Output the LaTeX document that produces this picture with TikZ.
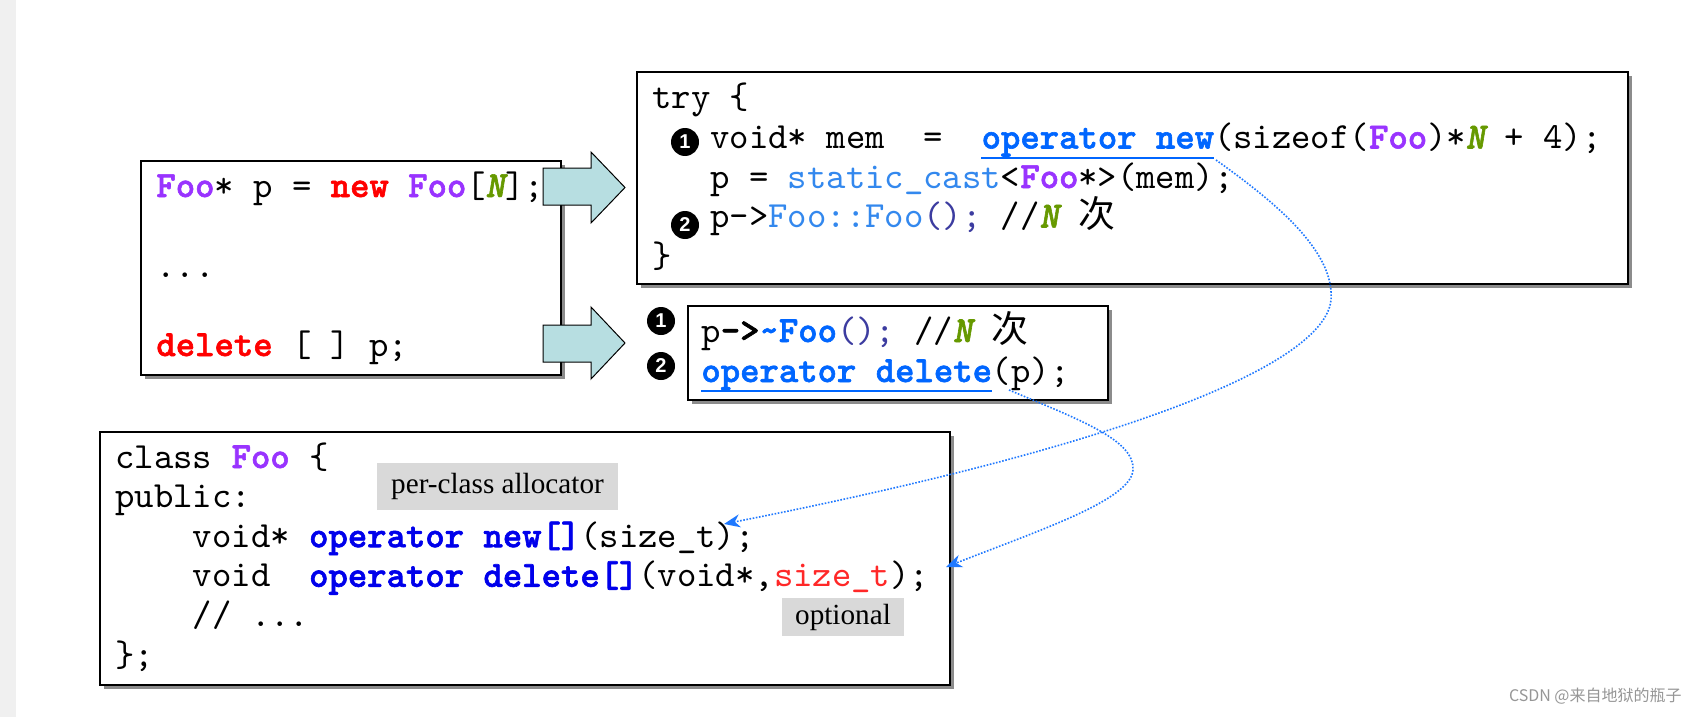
\documentclass[tikz,border=0pt]{standalone}
\usepackage{fontspec}
\setmainfont{Liberation Serif}
\setsansfont{Liberation Sans}
\newfontfamily\cjk{Noto Sans CJK SC}
\IfFontExistsTF{lmmonolt10-bold.otf}{%
  \setmonofont{lmmono10-regular.otf}[BoldFont=lmmonolt10-bold.otf,
    ItalicFont=lmmono10-italic.otf, BoldItalicFont=lmmonolt10-boldoblique.otf,
    BoldFeatures={FakeBold=1.6}, BoldItalicFeatures={FakeBold=1.6}]%
  \newcommand\codesize{\fontsize{18.45}{20}\selectfont}}{%
  \setmonofont{Liberation Mono}%
  \newcommand\codesize{\fontsize{16.1}{20}\selectfont}}
\usetikzlibrary{arrows.meta,shadows,fit}
\definecolor{fooPurple}{RGB}{153,51,255}
\definecolor{kwRed}{RGB}{255,0,0}
\definecolor{nGreen}{RGB}{102,153,0}
\definecolor{opBlue}{RGB}{0,102,255}
\definecolor{lightBlue}{RGB}{51,136,238}
\definecolor{darkBlue}{RGB}{60,60,160}
\definecolor{deepBlue}{RGB}{0,0,235}
\definecolor{sizeRed}{RGB}{255,40,40}
\definecolor{arrowFill}{RGB}{183,222,225}
\definecolor{curveBlue}{RGB}{30,120,255}
\definecolor{labelGray}{RGB}{217,217,217}
\definecolor{stripGray}{RGB}{240,240,240}
\definecolor{csdnGray}{RGB}{150,150,150}
\newcommand\cFoo{\textcolor{fooPurple}{\bfseries Foo}}
\newcommand\cN{\textcolor{nGreen}{\bfseries\itshape N}}
\newcommand\kw[1]{\textcolor{kwRed}{\bfseries #1}}
\tikzset{
  codebox/.style={draw=black, line width=1.1pt, fill=white, inner sep=0pt,
    drop shadow={shadow xshift=1.8pt, shadow yshift=-1.8pt, fill=black!45, opacity=1}},
  codeline/.style={anchor=base west, inner sep=0pt, font=\ttfamily\codesize},
  bulletnode/.style={circle, fill=black, text=white, inner sep=0pt, minimum size=14pt,
    font=\sffamily\bfseries\fontsize{10}{10}\selectfont},
  blockarrow/.style={fill=arrowFill, draw=black, line width=0.5pt, line join=miter},
  underl/.style={draw=opBlue, line width=0.7pt},
  flow/.style={draw=curveBlue, line width=0.8pt, dash pattern=on 0.8pt off 0.8pt,
    -{Stealth[length=8pt,width=6.5pt,inset=2.5pt]}},
  graylabel/.style={fill=labelGray, inner sep=0pt, font=\rmfamily\fontsize{14.6}{16}\selectfont}
}
\begin{document}
\begin{tikzpicture}[x=0.5pt,y=-0.5pt]
\useasboundingbox (0,0) rectangle (1696,717);
\fill[white] (0,0) rectangle (1696,717);
\fill[stripGray] (0,0) rectangle (16,717);

% boxes
\node[codebox, fit={(141,161) (561,375)}] (boxA) {};
\node[codebox, fit={(637,72) (1628,284)}] (boxB) {};
\node[codebox, fit={(688,306) (1108,400)}] (boxC) {};
\node[codebox, fit={(100,432) (950,685)}] (boxD) {};

% box A text
\node[codeline] (a1) at (156,197) {\cFoo* p = \kw{new} \cFoo[\cN];};
\node[codeline] (a2) at (156,277) {...};
\node[codeline] (a3) at (156,356) {\kw{delete} [ ] p;};

% box B text
\node[codeline] (b1) at (652,109) {try \{};
\node[codeline] (b2) at (710,148.5) {void* mem~~=~~\textcolor{opBlue}{\bfseries operator new}(sizeof(\cFoo)*\cN{} + 4);};
\node[codeline] (b3) at (710,188) {p = \textcolor{lightBlue}{static\_cast}<\cFoo*>(mem);};
\node[codeline] (b4) at (710,227.5) {p->\textcolor{lightBlue}{Foo::Foo}\textcolor{darkBlue}{();} //\cN{} {\cjk 次}};
\node[codeline] (b5) at (652,267) {\}};
\node[bulletnode] (bb1) at (685,142) {1};
\node[bulletnode] (bb2) at (685,225) {2};

% box C text
\node[codeline] (c1) at (701,342) {p\textbf{->}\textcolor{opBlue}{\bfseries\textasciitilde Foo}\textcolor{darkBlue}{();} //\cN{} {\cjk 次}};
\node[codeline] (c2) at (701,382) {\textcolor{opBlue}{\bfseries operator delete}(p);};
\node[bulletnode] (cb1) at (661,321) {1};
\node[bulletnode] (cb2) at (661,366) {2};

% box D text
\node[codeline] (d1) at (115,468) {class \cFoo{} \{};
\node[codeline] (d2) at (115,507.6) {public:};
\node[codeline] (d3) at (192.5,547.2) {void* \textcolor{deepBlue}{\bfseries operator new[]}(size\_t);};
\node[codeline] (d4) at (192.5,586.8) {void~~\textcolor{deepBlue}{\bfseries operator delete[]}(void*,\textcolor{sizeRed}{size\_t});};
\node[codeline] (d5) at (192.5,626.4) {// ...};
\node[codeline] (d6) at (115,666) {\};};

% gray labels
\node[graylabel, minimum width=120.5pt, minimum height=23.5pt] (lab1) at (497.5,486.5) {per-class allocator};
\node[graylabel, minimum width=61pt, minimum height=19pt] (lab2) at (843,617) {optional};

% block arrows
\filldraw[blockarrow] (543,168) -- (591,168) -- (591,152) -- (625,187.5) -- (591,223) -- (591,205) -- (543,205) -- cycle;
\filldraw[blockarrow] (543,325) -- (591,325) -- (591,307) -- (625,343) -- (591,379) -- (591,362) -- (543,362) -- cycle;

% underlines
\coordinate (u1s) at (981,158);
\coordinate (u1e) at (1214,158);
\coordinate (u2s) at (701,391);
\coordinate (u2e) at (992,391);
\draw[underl] (u1s) -- (u1e);
\draw[underl] (u2s) -- (u2e);

% dotted connectors
\coordinate (c1s) at (1216,160);
\coordinate (t1) at (724,524);
\coordinate (c2s) at (1009,390);
\coordinate (t2) at (946,567);
\draw[flow] (c1s) .. controls (1272,200) and (1335,250) .. (1331,300) .. controls (1325,360) and (1150,440) .. (t1);
\draw[flow] (c2s) .. controls (1080,420) and (1135,440) .. (1133,470) .. controls (1131,500) and (1040,530) .. (t2);

% footer
\node[anchor=base east, inner sep=0pt, text=csdnGray, font=\cjk\fontsize{8}{10}\selectfont] (csdn) at (1682,701) {CSDN @来自地狱的瓶子};
\end{tikzpicture}
\end{document}
